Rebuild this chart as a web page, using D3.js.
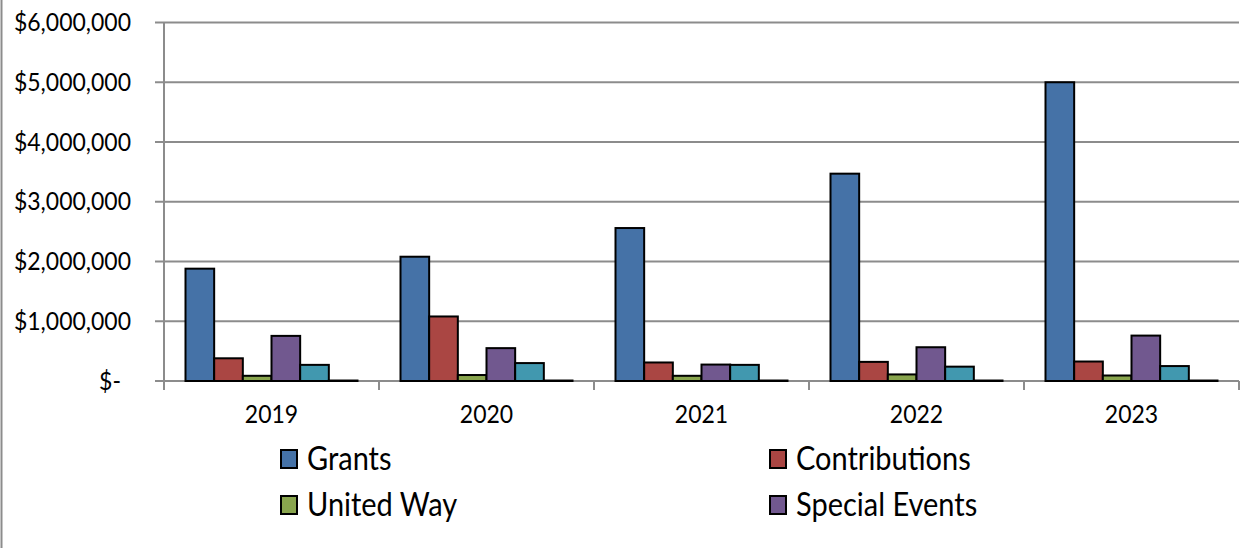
<!DOCTYPE html>
<html>
<head>
<meta charset="utf-8">
<script src="https://cdn.jsdelivr.net/npm/d3@7"></script>
<style>
body { margin: 0; background: #fff; }
svg { display: block; font-family: Lato, "Open Sans", sans-serif; }
</style>
</head>
<body>
<script>
// revenue by source, per year
const years = ["2019", "2020", "2021", "2022", "2023"];
const seriesNames = ["Grants", "Contributions", "United Way", "Special Events", "Investment Income", "Other"];
const grants = [1880000, 2080000, 2560000, 3470000, 5000000];
const contributions = [380000, 1080000, 310000, 320000, 326000];
const unitedWay = [87000, 100000, 87000, 110000, 92000];
const specialEvents = [755000, 550000, 275000, 565000, 760000];
const investment = [270000, 300000, 270000, 240000, 250000];
const other = [8000, 8000, 8000, 8000, 8000];
const yTicks = [0, 1000000, 2000000, 3000000, 4000000, 5000000, 6000000];
const colors = ["#4572A7", "#AA4643", "#89A54E", "#71588F", "#4198AF", "#DB843D"];

function draw() {
const width = 1248;
const height = 548;
const allSeries = [grants, contributions, unitedWay, specialEvents, investment, other];

const svg = d3.select("body")
	.append("svg")
	.attr("width", width)
	.attr("height", height);

// left border of the chart frame
svg.append("line")
	.attr("x1", 1.5).attr("x2", 1.5)
	.attr("y1", 0).attr("y2", height)
	.attr("stroke", "#8c8c8c")
	.attr("stroke-width", 2);

const x = d3.scaleBand()
	.domain(years)
	.range([164, 1239]);

const xInner = d3.scaleBand()
	.domain(seriesNames)
	.range([0, x.bandwidth()])
	.paddingOuter(0.75);

const y = d3.scaleLinear()
	.domain([0, 6000000])
	.range([381, 22.5]);

// gridlines
svg.append("g")
	.selectAll("line")
	.data(yTicks)
	.enter()
	.append("line")
	.attr("x1", 155)
	.attr("x2", 1239)
	.attr("y1", d => y(d))
	.attr("y2", d => y(d))
	.attr("stroke", "#8c8c8c")
	.attr("stroke-width", 2);

// y axis line
svg.append("line")
	.attr("x1", 164).attr("x2", 164)
	.attr("y1", y(6000000)).attr("y2", 390)
	.attr("stroke", "#8c8c8c")
	.attr("stroke-width", 2);

// category tick marks
svg.append("g")
	.selectAll("line")
	.data(years)
	.enter()
	.append("line")
	.attr("x1", d => x(d) + x.bandwidth())
	.attr("x2", d => x(d) + x.bandwidth())
	.attr("y1", y(0))
	.attr("y2", 390)
	.attr("stroke", "#8c8c8c")
	.attr("stroke-width", 2);

// text is a bit taller and narrower in the original, stretch it vertically
const fmt = d3.format(",");
svg.append("g")
	.selectAll("text")
	.data(yTicks)
	.enter()
	.append("text")
	.attr("transform", d => "translate(" + (d === 0 ? 121 : 131) + "," + (y(d) + 8.5) + ") scale(1,1.1)")
	.attr("text-anchor", "end")
	.attr("font-size", 23)
	.attr("fill", "#000")
	.text(d => d === 0 ? "$-" : "$" + fmt(d));

svg.append("g")
	.selectAll("text")
	.data(years)
	.enter()
	.append("text")
	.attr("transform", d => "translate(" + (x(d) + x.bandwidth() / 2) + ",423) scale(1,1.1)")
	.attr("text-anchor", "middle")
	.attr("font-size", 23)
	.attr("fill", "#000")
	.text(d => d);

// bars
const groups = svg.append("g")
	.selectAll("g")
	.data(years)
	.enter()
	.append("g")
	.attr("transform", d => "translate(" + x(d) + ",0)");

groups.selectAll("rect")
	.data((d, i) => seriesNames.map((s, j) => ({ s: s, j: j, v: allSeries[j][i] })))
	.enter()
	.append("rect")
	.attr("x", d => xInner(d.s))
	.attr("width", xInner.bandwidth())
	.attr("y", d => y(d.v))
	.attr("height", d => y(0) - y(d.v))
	.attr("fill", d => colors[d.j])
	.attr("stroke", "#000")
	.attr("stroke-width", 2);

// legend (only the first four entries fit)
const legendPos = [[281, 459], [770, 459], [281, 505], [770, 505]];
const legend = svg.append("g")
	.selectAll("g")
	.data(seriesNames.slice(0, 4))
	.enter()
	.append("g")
	.attr("transform", (d, i) => "translate(" + legendPos[i][0] + "," + legendPos[i][1] + ")");

legend.append("rect")
	.attr("x", 0)
	.attr("y", -9)
	.attr("width", 16)
	.attr("height", 18)
	.attr("fill", (d, i) => colors[i])
	.attr("stroke", "#000")
	.attr("stroke-width", 2);

legend.append("text")
	.attr("transform", "translate(26,10.5) scale(1,1.12)")
	.attr("font-size", 29)
	.attr("fill", "#000")
	.text(d => d);
}
window.onload = draw;
</script>
</body>
</html>
